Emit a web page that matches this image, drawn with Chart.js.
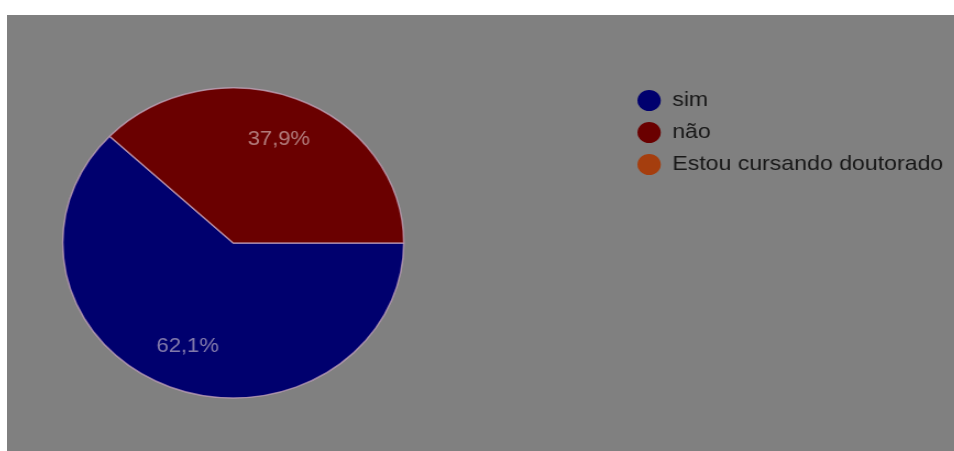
<!DOCTYPE html>
<html>
<head>
<meta charset="utf-8">
<script src="https://cdn.jsdelivr.net/npm/chart.js@4/dist/chart.umd.min.js"></script>
<style>
  html, body { margin: 0; padding: 0; background: #ffffff; }
  #panel {
    position: absolute;
    left: 7px;
    top: 15px;
    width: 947px;
    height: 436px;
    background: #808080;
    overflow: hidden;
  }
  /* the drawing is a bit wider than it is tall, so the canvas is stretched sideways;
     its left strip hangs outside the panel so the pie sits close to the edge */
  #answers {
    position: absolute;
    left: -166px;
    top: 0;
    transform: scaleX(1.1);
    transform-origin: 0 0;
  }
</style>
</head>
<body>
<div id="panel">
  <canvas id="answers" width="1012" height="436"></canvas>
</div>

<script>
var labels = ["sim", "não", "Estou cursando doutorado"];
var percents = [62.1, 37.9, 0];
var colors = ["#00006e", "#6a0000", "#a53e0e"];

var fontFamily = "'Liberation Sans', Arial, sans-serif";

// writes the percentage inside each slice, a bit past the middle of the radius
var sliceLabels = {
  id: 'sliceLabels',
  afterDatasetsDraw: function(chart){
    var ctx = chart.ctx;
    var meta = chart.getDatasetMeta(0);
    ctx.save();
    ctx.font = "20px " + fontFamily;
    ctx.fillStyle = "rgba(235,220,220,0.55)";
    ctx.textAlign = "center";
    ctx.textBaseline = "middle";
    meta.data.forEach(function(arc, i){
      var value = chart.data.datasets[0].data[i];
      if (!value){
        return;
      }
      var p = arc.getProps(['x', 'y', 'startAngle', 'endAngle', 'outerRadius'], true);
      var mid = (p.startAngle + p.endAngle) / 2;
      var r = p.outerRadius * 0.72;
      var text = value.toFixed(1).replace('.', ',') + '%';
      ctx.fillText(text, p.x + Math.cos(mid) * r, p.y + Math.sin(mid) * r);
    });
    ctx.restore();
  }
};

// legend dots without the slice border
function legendItems(chart){
  var items = Chart.overrides.pie.plugins.legend.labels.generateLabels(chart);
  items.forEach(function(item){
    item.lineWidth = 0;
    item.strokeStyle = 'transparent';
  });
  return items;
}

var answersChart = new Chart(document.getElementById('answers'), {
  type: 'pie',
  data: {
    labels: labels,
    datasets: [{
      data: percents,
      backgroundColor: colors,
      borderColor: "rgba(200,165,190,0.7)",
      borderWidth: 1.5,
      radius: 155
    }]
  },
  options: {
    responsive: false,
    animation: false,
    rotation: 90,
    events: [],
    layout: {
      padding: { left: 0, top: 64, right: 0, bottom: 44 }
    },
    plugins: {
      tooltip: { enabled: false },
      legend: {
        position: 'right',
        align: 'start',
        maxWidth: 300,
        labels: {
          usePointStyle: true,
          pointStyle: 'circle',
          boxWidth: 21,
          boxHeight: 15,
          padding: 11,
          color: "#181818",
          font: { size: 21, family: fontFamily },
          generateLabels: legendItems
        }
      }
    }
  },
  plugins: [sliceLabels]
});
</script>
</body>
</html>
